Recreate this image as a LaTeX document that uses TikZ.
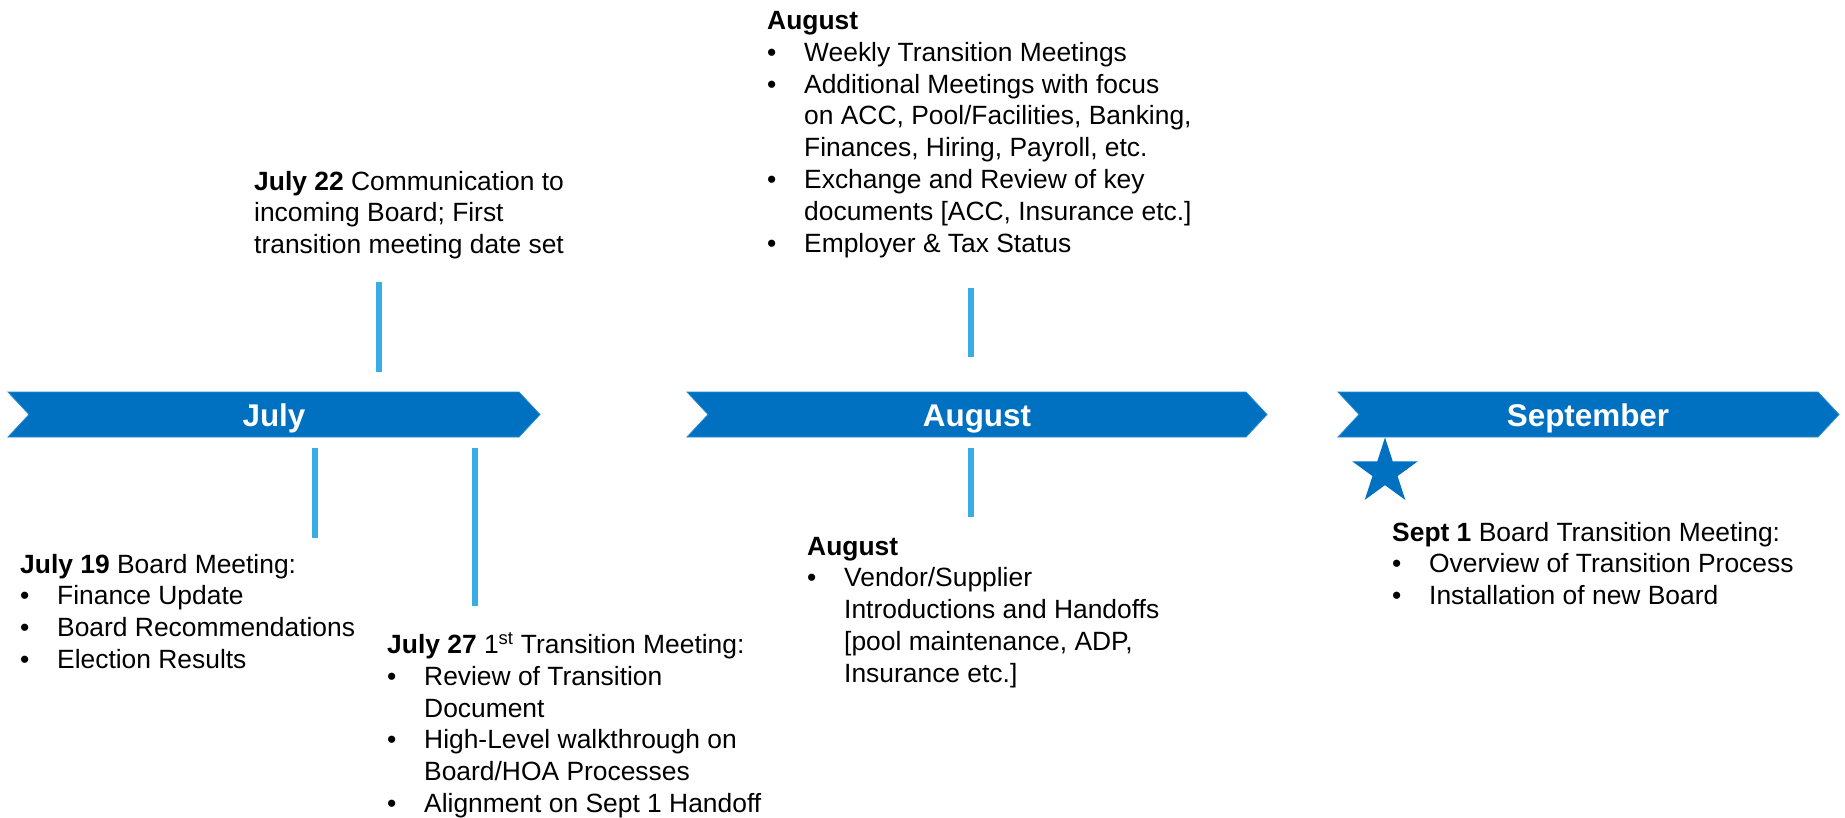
\documentclass[tikz,border=0pt]{standalone}
\usepackage{fontspec}
\setmainfont{Liberation Sans}
\usetikzlibrary{shapes.geometric}
\definecolor{bannerblue}{RGB}{0,112,192}
\definecolor{banneredge}{RGB}{40,140,210}
\definecolor{tickblue}{RGB}{58,174,228}
\newcommand{\blk}[1]{\parbox[t]{900pt}{\fontsize{26.4}{31.8}\selectfont\raggedright #1}}
\newcommand{\bl}[1]{\makebox[37pt][l]{\textbullet}#1}
\newcommand{\ct}[1]{\hspace*{37pt}#1}
\begin{document}
\begin{tikzpicture}[x=1pt,y=-1pt,
  banner/.style={fill=bannerblue,draw=banneredge,line width=0.8pt},
  mlabel/.style={text=white,font=\fontsize{31.4}{36}\selectfont\bfseries,anchor=base,inner sep=0},
  tick/.style={draw=tickblue,line width=6pt},
  block/.style={anchor=base west,inner sep=0,text=black}]
\useasboundingbox (0,0) rectangle (1845,817);

% banners
\fill[banner] (8,392) -- (519,392) -- (540,414.5) -- (519,437) -- (8,437) -- (29,414.5) -- cycle;
\fill[banner] (687,392) -- (1246,392) -- (1267,414.5) -- (1246,437) -- (687,437) -- (708,414.5) -- cycle;
\fill[banner] (1338,392) -- (1818,392) -- (1839,414.5) -- (1818,437) -- (1338,437) -- (1359,414.5) -- cycle;
\node[mlabel] (mjul) at (274,426.5) {July};
\node[mlabel] (maug) at (977,426.5) {August};
\node[mlabel] (msep) at (1588,426.5) {September};

% star
\node[star, star points=5, star point ratio=2.618, fill=bannerblue, inner sep=0, minimum size=69pt] (star) at (1385,472) {};

% ticks
\coordinate (t22a) at (379,282); \coordinate (t22b) at (379,372);
\coordinate (t19a) at (315,448); \coordinate (t19b) at (315,538);
\coordinate (t27a) at (475,448); \coordinate (t27b) at (475,606);
\coordinate (tAa) at (971,288); \coordinate (tAb) at (971,357);
\coordinate (tBa) at (971,448); \coordinate (tBb) at (971,517);
\draw[tick] (t22a) -- (t22b);
\draw[tick] (t19a) -- (t19b);
\draw[tick] (t27a) -- (t27b);
\draw[tick] (tAa) -- (tAb);
\draw[tick] (tBa) -- (tBb);

% text blocks
\node[block] (j22) at (254,190) {\blk{\textbf{July 22} Communication to\\
incoming Board; First\\
transition meeting date set}};

\node[block] (augtop) at (767,29.5) {\blk{\textbf{August}\\
\bl{Weekly Transition Meetings}\\
\bl{Additional Meetings with focus}\\
\ct{on ACC, Pool/Facilities, Banking,}\\
\ct{Finances, Hiring, Payroll, etc.}\\
\bl{Exchange and Review of key}\\
\ct{documents [ACC, Insurance etc.]}\\
\bl{Employer \& Tax Status}}};

\node[block] (j19) at (20,573) {\blk{\textbf{July 19} Board Meeting:\\
\bl{Finance Update}\\
\bl{Board Recommendations}\\
\bl{Election Results}}};

\node[block] (j27) at (387,653.5) {\blk{\textbf{July 27} 1\textsuperscript{st} Transition Meeting:\\
\bl{Review of Transition}\\
\ct{Document}\\
\bl{High-Level walkthrough on}\\
\ct{Board/HOA Processes}\\
\bl{Alignment on Sept 1 Handoff}}};

\node[block] (augbot) at (807,555) {\blk{\textbf{August}\\
\bl{Vendor/Supplier}\\
\ct{Introductions and Handoffs}\\
\ct{[pool maintenance, ADP,}\\
\ct{Insurance etc.]}}};

\node[block] (sep1) at (1392,541) {\blk{\textbf{Sept 1} Board Transition Meeting:\\
\bl{Overview of Transition Process}\\
\bl{Installation of new Board}}};
\end{tikzpicture}
\end{document}
